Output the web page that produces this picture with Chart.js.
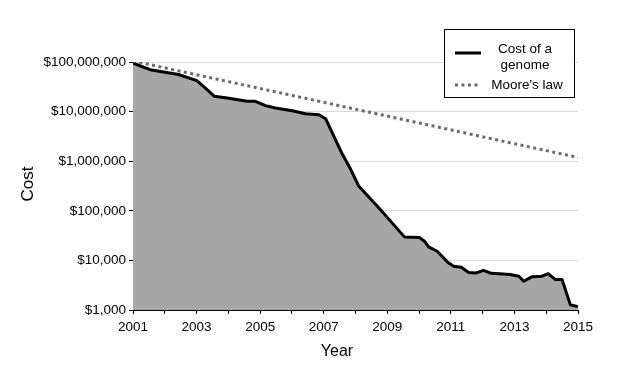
<!DOCTYPE html>
<html><head><meta charset="utf-8">
<script src="https://cdn.jsdelivr.net/npm/chart.js@4.4.1/dist/chart.umd.min.js"></script>
<style>html,body{margin:0;padding:0;background:#fff}#wrap{width:634px;height:382px}</style>
</head><body><div id="wrap"><canvas id="c" width="634" height="382"></canvas></div>
<script>
// ---- data ----
const genomeYears = [2001.00, 2001.54, 2002.43, 2003.01, 2003.27, 2003.56, 2003.96, 2004.59, 2004.85, 2005.17, 2005.48, 2006.01, 2006.43, 2006.85, 2007.06, 2007.58, 2007.81, 2008.10, 2008.78, 2009.54, 2010.01, 2010.17, 2010.30, 2010.57, 2010.91, 2011.09, 2011.33, 2011.56, 2011.80, 2012.03, 2012.27, 2012.87, 2013.14, 2013.29, 2013.56, 2013.87, 2014.06, 2014.29, 2014.50, 2014.76, 2015.00];
const genomeCost = [95000000, 70000000, 56000000, 42000000, 30000000, 20300000, 18800000, 16100000, 16100000, 13200000, 11800000, 10400000, 9060000, 8650000, 7200000, 1410000, 767000, 316000, 106000, 29800, 29000, 24400, 18700, 15300, 9100, 7600, 7300, 5700, 5600, 6300, 5500, 5200, 4800, 3800, 4700, 4800, 5400, 4100, 4100, 1270, 1170];
const mooreYears = [2001, 2015];
const mooreCost = [105000000, 1190000];
const yTickValues = [1000, 10000, 100000, 1000000, 10000000, 100000000];
const xTickYears = [2001, 2002, 2003, 2004, 2005, 2006, 2007, 2008, 2009, 2010, 2011, 2012, 2013, 2014, 2015];
const seriesNames = ['Cost of a genome', "Moore's law"];
const axisTitles = { x: 'Year', y: 'Cost' };

const FONT = '"Liberation Sans", Arial, sans-serif';
const genomeColor = '#000000';
const areaColor = '#a6a6a6';
const mooreColor = '#6a6a6a';
const mooreDash = [3, 3.5];

const overlay = {
  id: 'overlay',
  afterDraw(chart) {
    const ctx = chart.ctx;
    ctx.save();
    // axis titles
    ctx.fillStyle = '#000';
    ctx.font = '16px ' + FONT;
    ctx.textAlign = 'center';
    ctx.textBaseline = 'middle';
    ctx.fillText(axisTitles.x, 337, 352);
    ctx.save();
    ctx.font = '17px ' + FONT;
    ctx.translate(28, 184);
    ctx.rotate(-Math.PI / 2);
    ctx.fillText(axisTitles.y, 0, 0);
    ctx.restore();
    // legend
    ctx.fillStyle = '#fff';
    ctx.fillRect(444, 29, 130, 68);
    ctx.strokeStyle = '#000';
    ctx.lineWidth = 1;
    ctx.strokeRect(444.5, 29.5, 130, 68);
    ctx.lineWidth = 3;
    ctx.strokeStyle = genomeColor;
    ctx.beginPath(); ctx.moveTo(455, 53); ctx.lineTo(481, 53); ctx.stroke();
    ctx.strokeStyle = mooreColor;
    ctx.setLineDash(mooreDash);
    ctx.beginPath(); ctx.moveTo(455, 85); ctx.lineTo(481, 85); ctx.stroke();
    ctx.setLineDash([]);
    ctx.fillStyle = '#000';
    ctx.font = '13.5px ' + FONT;
    const words = seriesNames[0].split(' ');
    ctx.fillText(words.slice(0, 3).join(' '), 525, 49);
    ctx.fillText(words.slice(3).join(' '), 525, 65);
    ctx.fillText(seriesNames[1], 527, 85);
    ctx.restore();
  }
};

new Chart(document.getElementById('c'), {
  type: 'line',
  data: {
    datasets: [
      {
        label: seriesNames[1],
        data: mooreYears.map((x, i) => ({ x, y: mooreCost[i] })),
        borderColor: mooreColor,
        borderWidth: 3,
        borderDash: mooreDash,
        borderCapStyle: 'butt',
        pointRadius: 0,
        fill: false,
        order: 0
      },
      {
        label: seriesNames[0],
        data: genomeYears.map((x, i) => ({ x, y: genomeCost[i] })),
        borderColor: genomeColor,
        backgroundColor: areaColor,
        borderWidth: 3,
        borderJoinStyle: 'round',
        pointRadius: 0,
        fill: 'start',
        tension: 0,
        order: 1
      }
    ]
  },
  options: {
    responsive: false,
    animation: false,
    devicePixelRatio: 1,
    layout: { padding: { top: 62, right: 56, left: 0, bottom: 0 } },
    plugins: { legend: { display: false }, tooltip: { enabled: false } },
    scales: {
      x: {
        type: 'linear',
        min: 2001, max: 2015,
        afterBuildTicks: (axis) => { axis.ticks = xTickYears.map(v => ({ value: v })); },
        afterFit: (s) => { s.height = 72; },
        ticks: {
          autoSkip: false, maxRotation: 0, padding: 5, color: '#000',
          font: { family: FONT, size: 13.5 },
          callback: (v) => ((v - 2001) % 2 === 0 ? String(v) : '')
        },
        grid: { drawOnChartArea: false, tickLength: 4, tickColor: '#000', tickWidth: 1 },
        border: { color: '#000', width: 1 }
      },
      y: {
        type: 'logarithmic',
        min: 1000, max: 100000000,
        afterBuildTicks: (axis) => { axis.ticks = yTickValues.map(v => ({ value: v })); },
        afterFit: (s) => { s.width = 133; },
        ticks: {
          padding: 3, color: '#000',
          font: { family: FONT, size: 13.5 },
          callback: (v) => '$' + Number(v).toLocaleString('en-US')
        },
        grid: { color: '#d9d9d9', tickLength: 4, tickColor: '#000', lineWidth: 1 },
        border: { color: '#000', width: 1 }
      }
    }
  },
  plugins: [overlay]
});
</script>
</body></html>
